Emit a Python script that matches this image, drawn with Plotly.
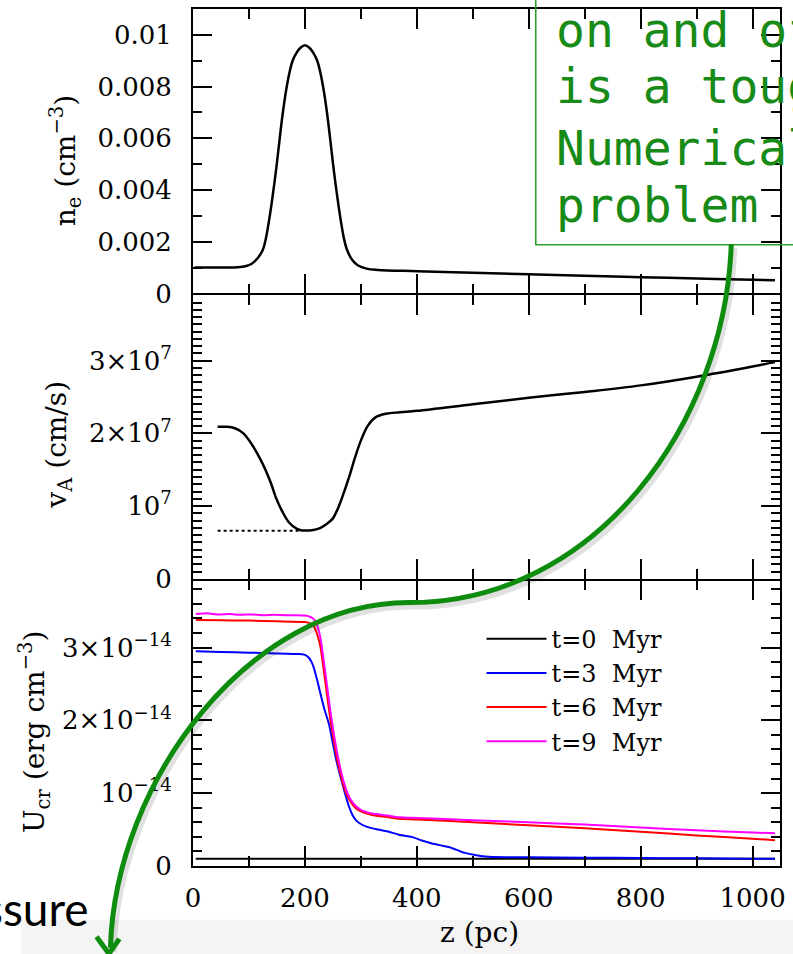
import plotly.graph_objects as go
from plotly.subplots import make_subplots

# ---------------- data ----------------
# panel 1: electron density n_e (cm^-3)
z_ne = [3, 50, 80, 95, 105, 115, 125, 130, 135, 140, 148, 155, 160, 166, 172, 178, 185, 192, 200,
        208, 215, 222, 228, 234, 240, 245, 252, 260, 265, 270, 275, 285, 295, 310, 330, 400, 500,
        600, 700, 800, 900, 1000, 1040]
ne = [0.00100, 0.00100, 0.00101, 0.00106, 0.00115, 0.00135, 0.0017, 0.0021, 0.0027, 0.0034, 0.0047,
      0.0060, 0.0069, 0.0078, 0.0085, 0.0090, 0.0093, 0.0095, 0.0096,
      0.0095, 0.0093, 0.0090, 0.0085, 0.0078, 0.0069, 0.0060, 0.0047, 0.0034, 0.0027, 0.0021,
      0.0017, 0.00128, 0.00108, 0.00096, 0.00091, 0.00086, 0.00080, 0.00074, 0.00068, 0.00063,
      0.00058, 0.00053, 0.00051]

# panel 2: Alfven speed v_A (cm/s)
z_va = [44, 60, 75, 90, 105, 120, 130, 140, 148, 160, 172, 185, 195, 205, 215, 228, 240, 249, 258,
        268, 279, 290, 300, 312, 326, 345, 370, 400, 500, 600, 700, 800, 900, 1000, 1040]
va = [2.09e7, 2.09e7, 2.07e7, 2.00e7, 1.85e7, 1.65e7, 1.49e7, 1.30e7, 1.12e7, 0.92e7, 0.77e7,
      0.69e7, 0.665e7, 0.665e7, 0.67e7, 0.70e7, 0.76e7, 0.82e7, 0.95e7, 1.15e7, 1.40e7, 1.68e7,
      1.90e7, 2.10e7, 2.22e7, 2.27e7, 2.29e7, 2.31e7, 2.40e7, 2.49e7, 2.57e7, 2.66e7, 2.78e7,
      2.92e7, 2.98e7]
z_vmin = [44, 193]
v_vmin = [0.66e7, 0.66e7]

# panel 3: cosmic-ray energy density U_cr (units of 1e-14 erg cm^-3)
z_t0 = [5, 1040]
u_t0 = [0.10, 0.10]

z_t3 = [5, 50, 100, 150, 190, 200, 207, 212, 216, 222, 228, 235, 243, 249, 255, 261, 267, 273, 279,
        285, 291, 297, 310, 330, 350, 368, 391, 409, 427, 445, 457, 475, 486, 504, 522, 560, 600,
        700, 800, 900, 1000, 1040]
u_t3 = [2.95, 2.94, 2.93, 2.92, 2.91, 2.90, 2.86, 2.80, 2.72, 2.55, 2.36, 2.15, 1.95, 1.72, 1.49,
        1.30, 1.13, 0.96, 0.81, 0.70, 0.63, 0.59, 0.54, 0.50, 0.47, 0.43, 0.40, 0.35, 0.31, 0.28,
        0.26, 0.21, 0.18, 0.15, 0.13, 0.12, 0.12, 0.115, 0.11, 0.105, 0.10, 0.10]

z_t6 = [5, 50, 100, 150, 200, 210, 216, 222, 228, 234, 240, 246, 252, 258, 264, 270, 276, 282, 290,
        300, 320, 350, 368, 400, 500, 600, 700, 800, 900, 1000, 1040]
u_t6 = [3.38, 3.375, 3.37, 3.36, 3.35, 3.33, 3.29, 3.18, 3.00, 2.67, 2.32, 1.98, 1.70, 1.45, 1.25,
        1.08, 0.96, 0.88, 0.80, 0.75, 0.70, 0.67, 0.65, 0.64, 0.60, 0.56, 0.52, 0.47, 0.42, 0.375,
        0.355]

z_t9 = [5, 25, 45, 65, 85, 105, 125, 145, 165, 185, 200, 210, 216, 222, 228, 234, 240, 246, 252,
        258, 264, 270, 276, 282, 290, 300, 320, 350, 368, 400, 500, 600, 700, 800, 900, 1000, 1040]
u_t9 = [3.46, 3.47, 3.455, 3.46, 3.45, 3.455, 3.445, 3.45, 3.445, 3.445, 3.44, 3.42, 3.39, 3.30,
        3.12, 2.80, 2.45, 2.10, 1.80, 1.54, 1.32, 1.14, 1.00, 0.91, 0.83, 0.77, 0.72, 0.69, 0.67,
        0.66, 0.63, 0.60, 0.57, 0.53, 0.49, 0.46, 0.45]

U_UNIT = 1e-14

ne_ticks = [0, 0.002, 0.004, 0.006, 0.008, 0.01]
ne_ticktext = ["0", "0.002", "0.004", "0.006", "0.008", "0.01"]
va_ticks = [0, 1e7, 2e7, 3e7]
va_ticktext = ["0", "10<sup>7</sup>", "2×10<sup>7</sup>", "3×10<sup>7</sup>"]
u_ticks = [0, 1e-14, 2e-14, 3e-14]
u_ticktext = ["0", "10<sup>−14</sup>", "2×10<sup>−14</sup>", "3×10<sup>−14</sup>"]
x_ticks = [0, 200, 400, 600, 800, 1000]

legend_names = ["t=0\u00a0\u00a0Myr", "t=3\u00a0\u00a0Myr", "t=6\u00a0\u00a0Myr", "t=9\u00a0\u00a0Myr"]
legend_colors = ["#000000", "#0000ff", "#ff0000", "#ff00ff"]

# ---------------- geometry helpers (pixel -> paper) ----------------
W, H = 793, 954
ML, MR, MT, MB = 193, 10, 7, 88
PW, PH = W - ML - MR, H - MT - MB
LW = 1.8  # axis line width


def PX(x):
    return (x - ML) / PW


def PY(y):
    return (H - MB - y) / PH


SERIF = "DejaVu Serif"

fig = make_subplots(rows=3, cols=1, shared_xaxes=True, vertical_spacing=0)

fig.add_trace(go.Scatter(x=z_ne, y=ne, mode="lines", line=dict(color="black", width=2.5, shape="spline"),
                         showlegend=False), row=1, col=1)
fig.add_trace(go.Scatter(x=z_va, y=va, mode="lines", line=dict(color="black", width=2.5, shape="spline"),
                         showlegend=False), row=2, col=1)
fig.add_trace(go.Scatter(x=z_vmin, y=v_vmin, mode="lines", line=dict(color="black", width=2, dash="dot"),
                         showlegend=False), row=2, col=1)

for zz, uu, nm, col in zip([z_t0, z_t3, z_t6, z_t9], [u_t0, u_t3, u_t6, u_t9], legend_names, legend_colors):
    fig.add_trace(go.Scatter(x=zz, y=[v * U_UNIT for v in uu], mode="lines", name=nm,
                             line=dict(color=col, width=2, shape="spline", smoothing=0.5)), row=3, col=1)

axis_common = dict(showline=True, linecolor="black", linewidth=LW, mirror="ticks", ticks="inside",
                   tickcolor="black", tickwidth=1.5, showgrid=False, zeroline=False,
                   tickfont=dict(family=SERIF, size=26, color="black"))

for r in (1, 2, 3):
    fig.update_xaxes(range=[0, 1049], tickmode="array", tickvals=x_ticks, ticklen=20,
                     minor=dict(tickmode="linear", tick0=0, dtick=100, ticks="inside", ticklen=10,
                                tickcolor="black", tickwidth=1.5),
                     showticklabels=(r == 3), ticklabelstandoff=8, row=r, col=1, **axis_common)

# panel domains overlap by one line width so the shared borders coincide
d1 = [PY(293 - LW / 2), 1.0]
d2 = [PY(579 - LW / 2), PY(293 + LW / 2)]
d3 = [0.0, PY(579 + LW / 2)]

fig.update_yaxes(domain=d1, range=[0, 0.011], tickmode="array", tickvals=ne_ticks, ticktext=ne_ticktext,
                 ticklen=19, minor=dict(tickmode="linear", tick0=0, dtick=0.001, ticks="inside", ticklen=9,
                                        tickcolor="black", tickwidth=1.5),
                 ticklabelstandoff=14, row=1, col=1, **axis_common)
fig.update_yaxes(domain=d2, range=[0, 3.9e7], tickmode="array", tickvals=va_ticks, ticktext=va_ticktext,
                 ticklen=19, minor=dict(tickmode="linear", tick0=0, dtick=1e6, ticks="inside", ticklen=9,
                                        tickcolor="black", tickwidth=1.5),
                 ticklabelstandoff=14, row=2, col=1, **axis_common)
fig.update_yaxes(domain=d3, range=[0, 3.92e-14], tickmode="array", tickvals=u_ticks, ticktext=u_ticktext,
                 ticklen=19, minor=dict(tickmode="linear", tick0=0, dtick=2e-15, ticks="inside", ticklen=9,
                                        tickcolor="black", tickwidth=1.5),
                 ticklabelstandoff=14, row=3, col=1, **axis_common)

annotations = [
    dict(text="n<sub>e</sub> (cm<sup>−3</sup>)", x=PX(65), y=PY(159), textangle=-90),
    dict(text="v<sub>A</sub> (cm/s)", x=PX(58), y=PY(444), textangle=-90),
    dict(text="U<sub>cr</sub> (erg cm<sup>−3</sup>)", x=PX(34), y=PY(731), textangle=-90),
    dict(text="z (pc)", x=PX(481), y=PY(933), textangle=0),
]
for a in annotations:
    fig.add_annotation(xref="paper", yref="paper", xanchor="center", yanchor="middle", showarrow=False,
                       font=dict(family=SERIF, size=28, color="black"), **a)

# handwritten-style note in the green box
note_lines = ["on and off", "is a tough", "Numerical", "problem"]
note_baselines = [45, 101, 163, 220]
for txt, base in zip(note_lines, note_baselines):
    fig.add_annotation(xref="paper", yref="paper", x=PX(556), y=PY(base - 17), xanchor="left",
                       yanchor="middle", showarrow=False, text=txt,
                       font=dict(family="DejaVu Sans Mono", size=48, color="#178a17"))

# slide text fragment
fig.add_annotation(xref="paper", yref="paper", x=PX(90), y=PY(909), xanchor="right", yanchor="middle",
                   showarrow=False, text="ssure", font=dict(family="Lato", size=46, color="black"))

shapes = []
# gray bottom band of the slide
shapes.append(dict(type="rect", xref="paper", yref="paper", x0=PX(20), x1=PX(820), y0=PY(920), y1=PY(970),
                   fillcolor="#f4f4f4", line=dict(width=0), layer="below"))
# green text box
shapes.append(dict(type="rect", xref="paper", yref="paper", x0=PX(537.5), x1=PX(830), y0=PY(243.3),
                   y1=PY(-30), line=dict(color="#2f9e2f", width=1.6), fillcolor="rgba(0,0,0,0)"))


def arrow_path(dx=0, dy=0):
    p = [(734, 243), (728, 420), (600, 602), (410, 602), (250, 602), (115, 780), (110, 948)]
    p = [(PX(x + dx), PY(y + dy)) for x, y in p]
    return ("M {},{} C {},{} {},{} {},{} C {},{} {},{} {},{}"
            .format(*[c for pt in p for c in pt]))


shapes.append(dict(type="path", xref="paper", yref="paper", path=arrow_path(3, 4),
                   line=dict(color="rgba(0,0,0,0.12)", width=6)))
shapes.append(dict(type="path", xref="paper", yref="paper", path=arrow_path(),
                   line=dict(color="#0e8c0e", width=5)))
head = "M {},{} L {},{} L {},{}".format(PX(96), PY(937), PX(108.5), PY(954), PX(119), PY(939))
shapes.append(dict(type="path", xref="paper", yref="paper", path=head,
                   line=dict(color="#0e8c0e", width=5)))

fig.update_layout(
    width=W, height=H,
    margin=dict(l=ML, r=MR, t=MT, b=MB),
    paper_bgcolor="white", plot_bgcolor="rgba(0,0,0,0)",
    shapes=shapes,
    showlegend=True,
    legend=dict(x=PX(483), y=PY(616), xanchor="left", yanchor="top", bgcolor="rgba(0,0,0,0)",
                font=dict(family=SERIF, size=24, color="black"), itemwidth=60, tracegroupgap=0,
                itemclick=False),
)

fig.write_html("out.html")
